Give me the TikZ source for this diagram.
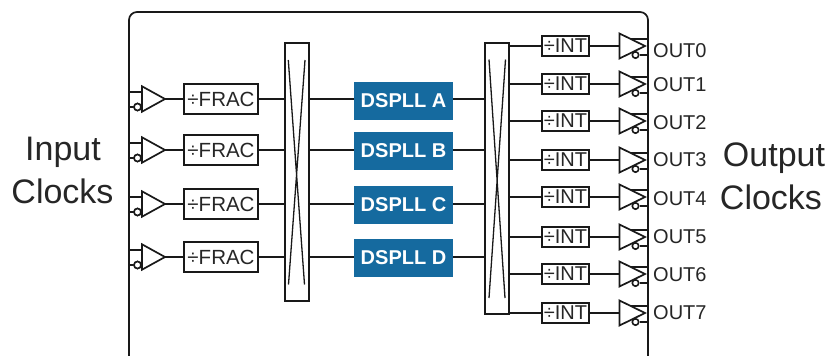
\documentclass[tikz,border=0pt]{standalone}
\usepackage{fontspec}
\setmainfont{Liberation Sans}
\definecolor{dsblue}{HTML}{156A9F}
\tikzset{
  wire/.style={draw=black!90,line width=1.75pt},
  outer/.style={draw=black!90,line width=1.7pt},
  divbox/.style={draw=black!90,line width=1.75pt,inner sep=0pt,minimum height=30,minimum width=74,font=\fontsize{20.5}{22}\selectfont,text=black!85},
  intbox/.style={draw=black!90,line width=1.75pt,inner sep=0pt,minimum height=20,minimum width=47,font=\fontsize{20}{22}\selectfont,text=black!85},
  pll/.style={fill=dsblue,inner sep=0pt,minimum height=38,minimum width=99,text=white,font=\bfseries\fontsize{20}{22}\selectfont},
  muxbox/.style={draw=black!90,line width=1.75pt,inner sep=0pt,minimum width=24},
  bub/.style={circle,draw=black!90,line width=1.6pt,fill=white,inner sep=0pt,minimum size=7},
  tri/.style={draw=black!90,line width=1.7pt,line join=miter},
  outlab/.style={anchor=west,inner sep=0pt,font=\fontsize{20}{22}\selectfont,text=black!85},
  biglab/.style={inner sep=0pt,font=\fontsize{34}{40}\selectfont,text=black!85},
}
\begin{document}
\begin{tikzpicture}[x=1pt,y=-1pt]
\useasboundingbox (0,0) rectangle (828,356);
\coordinate (bl) at (129,356);
\coordinate (br) at (648,356);
\draw[outer,rounded corners=8] (bl) -- (129,12) -- (648,12) -- (br);
% muxes
\node[muxbox,minimum height=258] (m1) at (297,172) {};
\node[muxbox,minimum height=271] (m2) at (497,178.5) {};
\coordinate (m1a) at (288.3,60); \coordinate (m1b) at (304.5,284.5);
\coordinate (m1c) at (305,60);   \coordinate (m1d) at (288.5,284.5);
\coordinate (m2a) at (489,59.5); \coordinate (m2b) at (505,298);
\coordinate (m2c) at (505.5,59.5); \coordinate (m2d) at (489,298);
\draw[wire,line width=1.3pt] (m1a) -- (m1b) (m1c) -- (m1d) (m2a) -- (m2b) (m2c) -- (m2d);
% inputs
\foreach \n/\y/\py/\lab in {1/99/101/A,2/150/151/B,3/204/205/C,4/257/258/D}{
  \coordinate (it\n) at (142,\y-12.7);
  \coordinate (ib\n) at (142,\y+12.7);
  \coordinate (ip\n) at (165,\y);
  \coordinate (iu\n) at (129,\y-7);
  \coordinate (ius\n) at (142,\y-7);
  \node[bub] (ic\n) at (137.5,\y+8) {};
  \coordinate (il\n) at (129,\y+8);
  \draw[wire] (iu\n) -- (ius\n);
  \draw[wire] (il\n) -- (ic\n);
  \draw[tri] (it\n) -- (ip\n) -- (ib\n) -- cycle;
  \node[bub] at (ic\n) {};
  \node[divbox] (f\n) at (221,\y) {÷FRAC};
  \node[pll] (p\n) at (403.5,\py) {DSPLL \lab};
  \draw[wire] (ip\n) -- (f\n);
  \draw[wire] (f\n) -- (f\n -| m1.west);
  \draw[wire] (f\n -| m1.east) -- (f\n -| p\n.west);
  \draw[wire] (f\n -| p\n.east) -- (f\n -| m2.west);
}
% outputs
\foreach \n/\y/\ly in {0/46/50.5,1/84/84.2,2/121/122.4,3/160/159.7,4/197/198.4,5/237/236.7,6/274/274.7,7/313/312.7}{
  \node[intbox] (d\n) at (565.5,\y) {÷INT};
  \coordinate (ot\n) at (619.5,\y-12.5);
  \coordinate (ob\n) at (619.5,\y+12.5);
  \coordinate (op\n) at (645,\y);
  \coordinate (ou\n) at (648,\y-7);
  \coordinate (ouk\n) at (631,\y-7);
  \node[bub,minimum size=6.4] (oc\n) at (635.5,\y+9) {};
  \coordinate (ol\n) at (648,\y+9);
  \draw[wire] (d\n -| m2.east) -- (d\n);
  \draw[wire] (d\n) -- (ot\n |- d\n);
  \draw[tri] (ot\n) -- (op\n) -- (ob\n) -- cycle;
  \draw[wire] (ouk\n) -- (ou\n);
  \draw[wire] (oc\n) -- (ol\n);
  \node[outlab] (l\n) at (653,\ly) {OUT\n};
}
\node[biglab] (in1) at (63,152) {Input};
\node[biglab] (in2) at (62.5,191) {Clocks};
\node[biglab] (o1) at (774,158) {Output};
\node[biglab] (o2) at (771,197) {Clocks};
\end{tikzpicture}
\end{document}
